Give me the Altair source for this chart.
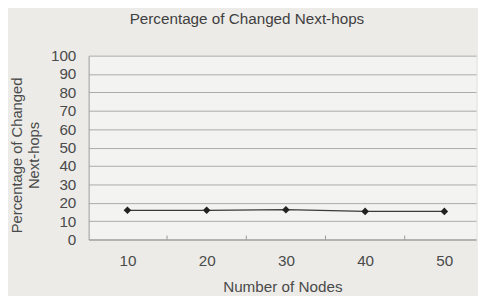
import altair as alt
import pandas as pd

nodes = [10, 20, 30, 40, 50]
pct = [15.9, 15.9, 16.2, 15.3, 15.3]
band_edges = [15, 25, 35, 45]
y_ticks = [0, 10, 20, 30, 40, 50, 60, 70, 80, 90, 100]

df = pd.DataFrame({"nodes": nodes, "pct": pct})
edges = pd.DataFrame({"e": band_edges})

FONT = "Liberation Sans"
TXT = "#4a4a4a"

xscale = alt.Scale(domain=[5.1, 54.0], nice=False, zero=False)
yscale = alt.Scale(domain=[0, 100], nice=False)

xaxis = alt.Axis(values=nodes, ticks=False, grid=False, domainColor="#9a9a9a",
                 labelFont=FONT, labelFontSize=15.5, labelColor=TXT, labelPadding=14,
                 labelOverlap=False,
                 title="Number of Nodes", titleFont=FONT, titleFontSize=15.5,
                 titleFontWeight="normal", titleColor=TXT, titlePadding=11)
yaxis = alt.Axis(values=y_ticks, ticks=False, grid=True, gridColor="#a9a9a9",
                 domainColor="#9a9a9a", labelFont=FONT, labelFontSize=15.5,
                 labelColor=TXT, labelPadding=13, labelOverlap=False, labelFlush=False,
                 title=["Percentage of Changed", "Next-hops"], titleFont=FONT,
                 titleFontSize=15, titleFontWeight="normal", titleColor=TXT,
                 titleAngle=-90, titleAlign="center", titleBaseline="middle",
                 titleLineHeight=18, titleX=-73.5, titleY=101)

X = alt.X("nodes:Q", scale=xscale, axis=xaxis)
Y = alt.Y("pct:Q", scale=yscale, axis=yaxis)

line = alt.Chart(df).mark_line(color="#3a3a3a", strokeWidth=1.3).encode(x=X, y=Y)
pts = alt.Chart(df).mark_point(shape="diamond", filled=True, size=60,
                               color="#222222", opacity=1).encode(x=X, y=Y)
ticks = alt.Chart(edges).mark_rule(color="#9a9a9a", strokeWidth=1).encode(
    x=alt.X("e:Q", scale=xscale, axis=xaxis),
    y=alt.value(183),
    y2=alt.value(187),
)

chart = alt.layer(ticks, line, pts).properties(
    width=394, height=187,
    autosize=alt.AutoSizeParams(type="none"),
    padding={"left": 82, "top": 46, "right": 2, "bottom": 55},
    background="#ecebe8",
    title=alt.Title("Percentage of Changed Next-hops", font=FONT, fontSize=15.5,
                    fontWeight="normal", color="#3f3f3f", offset=22, dx=-36),
).configure_view(fill="#f3f3f1", stroke=None)

chart.save("out.html", embed_options={"renderer": "svg", "actions": False})
